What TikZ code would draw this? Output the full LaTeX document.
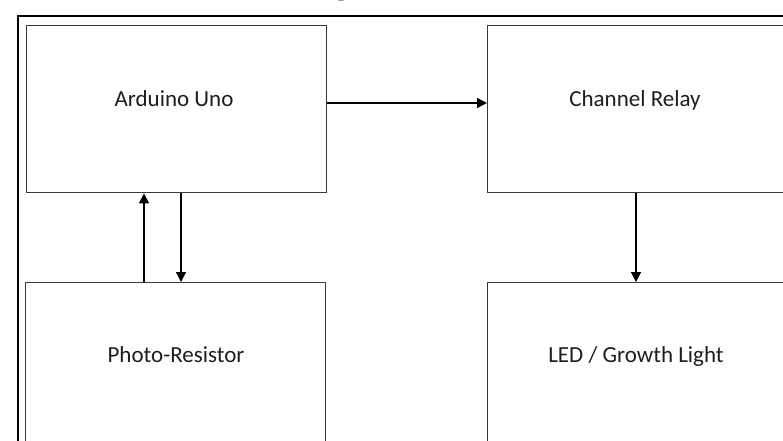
\documentclass[tikz,border=0pt]{standalone}
\usepackage{fontspec}
\setmainfont{Carlito}
\usetikzlibrary{arrows.meta}
\definecolor{boxline}{HTML}{3A3A3A}
\definecolor{txt}{HTML}{1E1E1E}
\begin{document}
\begin{tikzpicture}[x=1pt,y=-1pt,
  blockbox/.style={draw=boxline,line width=1.4pt,rectangle,inner sep=0pt,
    minimum width=300pt,minimum height=167pt,anchor=north west},
  lbl/.style={font=\fontsize{23}{28}\selectfont,text=txt,anchor=base,inner sep=0pt},
  arr/.style={draw=black,line width=1.3pt,-{Triangle[width=10pt,length=10pt]}}]
\useasboundingbox (0,0) rectangle (783,440);
\fill[white] (0,0) rectangle (783,440);
% cropped title descender
\node[font=\fontsize{44}{50}\selectfont\bfseries,anchor=base,inner sep=0pt] (title) at (342,-7) {g};
% outer frame
\draw[black,line width=1.6pt] (18,460) -- (18,16) -- (800,16);
% blocks
\node[blockbox] (ard) at (26,25) {};
\node[blockbox] (rel) at (487,25) {};
\node[blockbox] (pho) at (25,282) {};
\node[blockbox] (led) at (487,282) {};
% labels
\node[lbl] (lard) at (174,106) {Arduino Uno};
\node[lbl] (lrel) at (635,106) {Channel Relay};
\node[lbl] (lpho) at (176,362) {Photo-Resistor};
\node[lbl] (lled) at (636,362) {LED / Growth Light};
% connectors
\coordinate (hy) at (0,103);
\coordinate (upx) at (144,0);
\coordinate (dnx) at (181,0);
\coordinate (rx) at (636,0);
\draw[arr] (ard.east |- hy) -- (rel.west |- hy);
\draw[arr] (pho.north -| upx) -- (ard.south -| upx);
\draw[arr] (ard.south -| dnx) -- (pho.north -| dnx);
\draw[arr] (rel.south -| rx) -- (led.north -| rx);
\end{tikzpicture}
\end{document}
